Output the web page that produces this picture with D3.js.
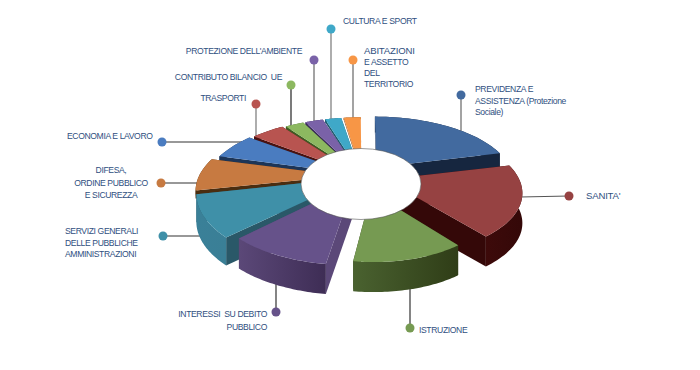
<!DOCTYPE html>
<html>
<head>
<meta charset="utf-8">
<script src="https://cdn.jsdelivr.net/npm/d3@7"></script>
<style>
  html, body { margin: 0; padding: 0; background: #fff; }
  text { font-family: "Liberation Sans", Arial, sans-serif; font-size: 8.6px; fill: #2f4f80; letter-spacing: -0.38px; }
  text.big { font-size: 9.6px; letter-spacing: -0.2px; }
</style>
</head>
<body>
<div id="chart"></div>
<script>
// spending shares in percent
var categories = ["Previdenza", "Sanita", "Istruzione", "Interessi", "Servizi generali", "Difesa",
    "Economia", "Trasporti", "Contributo UE", "Ambiente", "Cultura", "Abitazioni"];
var shares = [21.4, 18.55, 13.0, 10.1, 9.17, 7.78, 6.1, 4.5, 2.5, 2.4, 2.2, 2.3];

// styles, one entry per slice
var topColors  = ["#426a9f", "#964242", "#769a52", "#66528a", "#3f90a8", "#c77a41", "#4a7cc0", "#b85450", "#8cb860", "#7a62a8", "#3fa8c8", "#f79646"];
var wallColors = ["#16263f", "#340808", "#2f3d17", "#3e2d55", "#3a7f96", "#4a2d10", "#1d3557", "#4a1210", "#3f5c22", "#3a2c5a", "#1f5a70", "#8a4a18"];
var wallLight  = ["#16263f", "#3d0a0a", "#4a6230", "#5b4878", "#3a8098", "#4a2d10", "#1d3557", "#4a1210", "#3f5c22", "#3a2c5a", "#1f5a70", "#8a4a18"];
var sideColors = ["#16263f", "#340808", "#2f3d17", "#5b4878", "#2a5868", "#4a2d10", "#1d3557", "#4a1210", "#3f5c22", "#3a2c5a", "#1f5a70", "#8a4a18"];
var depths  = [16, 30, 30, 30, 28, 8, 7, 5, 3, 3, 3, 2];
var explode = [24, 24, 35, 18, 6, 18, 12, 10, 8, 8, 8, 8];
var radii   = [137, 133, 116, 138, 156, 145, 146, 146, 146, 146, 146, 146];

// labels, [text lines] with anchor point
var labelLines = [
    ["PREVIDENZA E", "ASSISTENZA (Protezione", "Sociale)"], ["SANITA'"], ["ISTRUZIONE"],
    ["INTERESSI  SU DEBITO", "PUBBLICO"], ["SERVIZI GENERALI", "DELLE PUBBLICHE", "AMMINISTRAZIONI"],
    ["DIFESA,", "ORDINE PUBBLICO", "E SICUREZZA"], ["ECONOMIA E LAVORO"], ["TRASPORTI"],
    ["CONTRIBUTO BILANCIO  UE"], ["PROTEZIONE DELL'AMBIENTE"], ["CULTURA E SPORT"],
    ["ABITAZIONI", "E ASSETTO", "DEL", "TERRITORIO"]
];
var bigLines = ["SANITA'", "ABITAZIONI"];
var labelX = [475, 586, 419, 267, 65, 111, 67, 246, 282, 302, 343, 364];
var labelY = [89, 196, 330, 314, 231, 170, 136, 98, 77, 51, 21, 51];
var labelAnchor = ["start", "start", "start", "end", "start", "middle", "start", "end", "end", "end", "start", "start"];
var lineStep = [11.5, 11, 11, 13, 11.5, 12.5, 11, 11, 11, 11, 11, 11];
// leader line: dot centre, then where it meets the pie
var dotX = [461, 569, 410, 276, 163, 161, 162, 256, 291, 314, 331, 353];
var dotY = [95, 196, 328, 312, 236, 183, 142, 104, 85, 60, 29, 60];
var endX = [461, 520, 410, 276, 210, 205, 245, 256, 291, 314, 331, 353];
var endY = [140, 197, 285, 275, 236, 183, 142, 140, 130, 125, 125, 125];
var leaderColors = ["#666", "#555", "#333", "#333", "#333", "#333", "#333", "#777", "#222", "#666", "#777", "#666"];

var width = 700, height = 370;
var cx = 362, cy = 176, tilt = 0.46, persp = 0.2 / 150;

var svg = d3.select("#chart").append("svg")
    .attr("width", width)
    .attr("height", height);

var defs = svg.append("defs");

// project a point on the tilted disc to the screen
function project(r, a, slice) {
    var X = r * Math.sin(a) + slice.dx;
    var Z = -r * Math.cos(a) + slice.dz;
    var s = 1 / (1 - Z * persp);
    return [cx + X * s, cy + Z * tilt * s];
}

// leaders go behind the pie
categories.forEach(function (c, i) {
    svg.append("line")
        .attr("x1", dotX[i]).attr("y1", dotY[i])
        .attr("x2", endX[i]).attr("y2", endY[i])
        .attr("stroke", leaderColors[i])
        .attr("stroke-width", 1.2);
});

var arcs = d3.pie().sort(null).value(function (d) { return d; }).padAngle(0.012)(shares);
var slices = arcs.map(function (d, i) {
    var mid = (d.startAngle + d.endAngle) / 2;
    return {
        i: i,
        a0: d.startAngle + d.padAngle / 2,
        a1: d.endAngle - d.padAngle / 2,
        mid: mid,
        dx: explode[i] * Math.sin(mid),
        dz: -explode[i] * Math.cos(mid),
        depth: depths[i],
        r: radii[i]
    };
});
// back to front
slices.sort(function (a, b) { return Math.cos(b.mid) - Math.cos(a.mid); });

var line = d3.line();

slices.forEach(function (s) {
    var rim = d3.range(0, 41).map(function (k) {
        return project(s.r, s.a0 + (s.a1 - s.a0) * k / 40, s);
    });
    var apex = project(0, 0, s);
    var down = function (p) { return [p[0], p[1] + s.depth]; };

    var grad = defs.append("linearGradient").attr("id", "wall" + s.i);
    grad.append("stop").attr("offset", "0%").attr("stop-color", wallLight[s.i]);
    grad.append("stop").attr("offset", "100%").attr("stop-color", wallColors[s.i]);

    var g = svg.append("g").attr("class", "slice");
    // radial walls
    [rim[0], rim[40]].forEach(function (edge) {
        g.append("path")
            .attr("d", line([apex, edge, down(edge), down(apex)]) + "Z")
            .attr("fill", sideColors[s.i]);
    });
    // outer wall
    g.append("path")
        .attr("d", line(rim.concat(rim.map(down).reverse())) + "Z")
        .attr("fill", "url(#wall" + s.i + ")");
    // top face
    g.append("path")
        .attr("d", line([apex].concat(rim)) + "Z")
        .attr("fill", topColors[s.i]);
});

// hole in the middle
svg.append("ellipse")
    .attr("cx", 361).attr("cy", 184)
    .attr("rx", 60).attr("ry", 35.5)
    .attr("fill", "#fff")
    .attr("stroke", "#555")
    .attr("stroke-width", 0.6);

// dots and labels
categories.forEach(function (c, i) {
    svg.append("circle")
        .attr("cx", dotX[i]).attr("cy", dotY[i]).attr("r", 4.5)
        .attr("fill", topColors[i]);
    labelLines[i].forEach(function (t, j) {
        svg.append("text")
            .attr("class", bigLines.indexOf(t) >= 0 ? "big" : null)
            .attr("x", labelX[i])
            .attr("y", labelY[i] + j * lineStep[i])
            .attr("dy", "0.35em")
            .attr("text-anchor", labelAnchor[i])
            .style("white-space", "pre")
            .text(t);
    });
});
</script>
</body>
</html>
